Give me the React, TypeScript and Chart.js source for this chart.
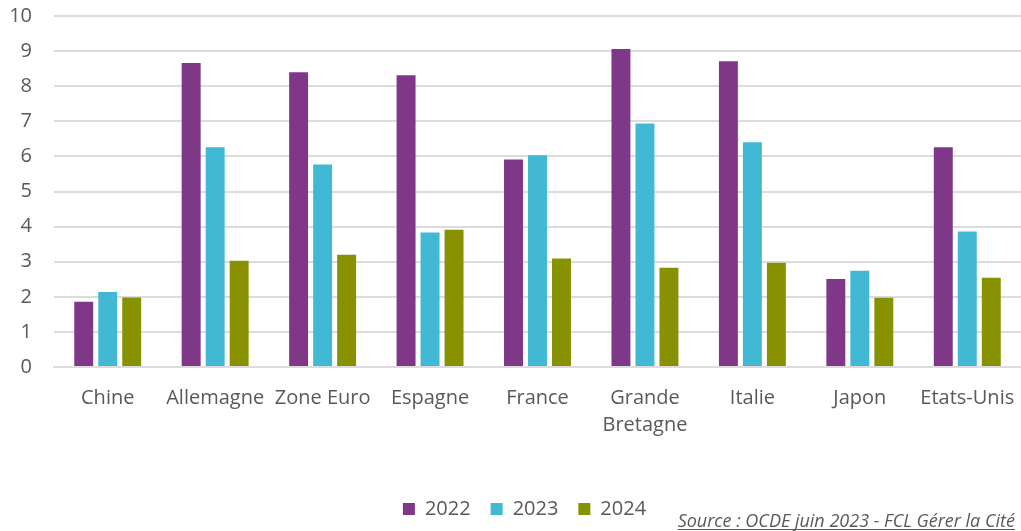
import React, { useEffect, useRef } from "react";
import { Chart, registerables } from "chart.js";

Chart.register(...registerables);

const categories: (string | string[])[] = [
  "Chine",
  "Allemagne",
  "Zone Euro",
  "Espagne",
  "France",
  ["Grande", "Bretagne"],
  "Italie",
  "Japon",
  "Etats-Unis",
];
const values2022 = [1.86, 8.66, 8.4, 8.31, 5.91, 9.06, 8.71, 2.51, 6.26];
const values2023 = [2.14, 6.26, 5.77, 3.83, 6.03, 6.94, 6.4, 2.74, 3.86];
const values2024 = [1.98, 3.03, 3.2, 3.91, 3.09, 2.83, 2.97, 1.97, 2.54];
const seriesLabels = ["2022", "2023", "2024"];
const seriesColors = ["#7E3887", "#41B9D5", "#889200"];
const sourceText = "Source : OCDE juin 2023 - FCL Gérer la Cité";

const FONT = "'Open Sans', sans-serif";
const TEXT = "#595959";
const GRID = "#DCDCDC";

const sourcePlugin = {
  id: "sourceText",
  afterLayout(chart: any) {
    if (chart.legend) {
      chart.legend.left += 28;
    }
  },
  afterDraw(chart: any) {
    const ctx = chart.ctx;
    ctx.save();
    ctx.font = `italic 18px ${FONT}`;
    ctx.fillStyle = TEXT;
    ctx.textAlign = "right";
    ctx.textBaseline = "alphabetic";
    const xr = 1015;
    const yb = 527;
    ctx.fillText(sourceText, xr, yb);
    const w = ctx.measureText(sourceText).width;
    ctx.strokeStyle = TEXT;
    ctx.lineWidth = 1;
    ctx.beginPath();
    ctx.moveTo(xr - w, yb + 2.5);
    ctx.lineTo(xr, yb + 2.5);
    ctx.stroke();
    ctx.restore();
  },
};

function zeroPadding(scale: any) {
  scale.paddingTop = 0;
  scale.paddingBottom = 0;
  scale.paddingLeft = 0;
  scale.paddingRight = 0;
}

export default function App() {
  const ref = useRef<HTMLCanvasElement>(null);
  useEffect(() => {
    if (!ref.current) return;
    const datasets = [values2022, values2023, values2024].map((d, i) => ({
      label: seriesLabels[i],
      data: d,
      backgroundColor: seriesColors[i],
      borderWidth: 0,
      categoryPercentage: 0.67,
      barPercentage: 0.79,
    }));
    const chart = new Chart(ref.current, {
      type: "bar",
      data: { labels: categories as any, datasets },
      plugins: [sourcePlugin],
      options: {
        animation: false,
        responsive: true,
        maintainAspectRatio: false,
        layout: { padding: { top: 16, right: 0, left: 0, bottom: 2 } },
        scales: {
          x: {
            grid: { display: false, drawTicks: false },
            border: { display: true, color: GRID, width: 2 },
            ticks: {
              color: TEXT,
              font: { family: FONT, size: 20, lineHeight: 1.35 },
              padding: 18,
              maxRotation: 0,
              autoSkip: false,
            },
            afterFit(scale: any) {
              scale.height = 112;
              zeroPadding(scale);
            },
          },
          y: {
            min: 0,
            max: 10,
            grid: { color: GRID, lineWidth: 2, drawTicks: false },
            border: { display: false },
            ticks: {
              stepSize: 1,
              color: TEXT,
              font: { family: FONT, size: 20 },
              padding: 22,
            },
            afterFit(scale: any) {
              scale.width = 54;
              zeroPadding(scale);
            },
          },
        },
        plugins: {
          legend: {
            position: "bottom",
            labels: {
              color: TEXT,
              font: { family: FONT, size: 20 },
              boxWidth: 12,
              boxHeight: 12,
              padding: 20,
            },
          },
          tooltip: { enabled: false },
        },
      },
    });
    return () => chart.destroy();
  }, []);
  return (
    <div style={{ position: "absolute", left: 0, top: 0, width: 1021, height: 531, background: "#fff" }}>
      <canvas ref={ref} />
    </div>
  );
}
